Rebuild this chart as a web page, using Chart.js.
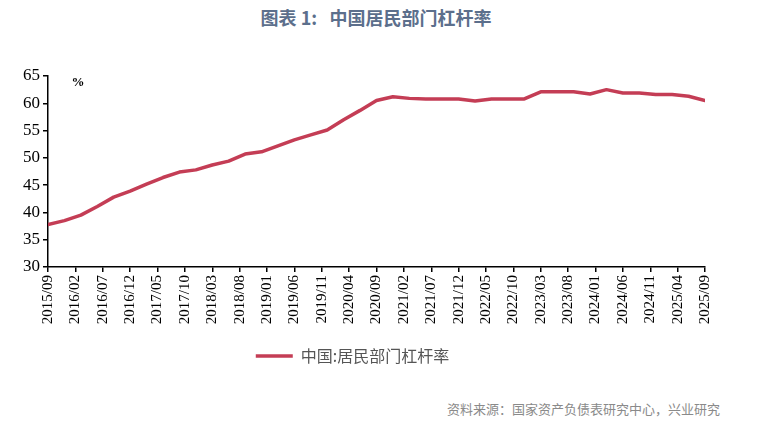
<!DOCTYPE html>
<html>
<head>
<meta charset="utf-8">
<script src="https://cdn.jsdelivr.net/npm/chart.js@4.4.1/dist/chart.umd.min.js"></script>
<style>
  html, body { margin: 0; padding: 0; background: #fff; }
  body { width: 776px; height: 423px; position: relative; overflow: hidden; }
  #title {
    position: absolute; left: 0; width: 752px; top: 4px; text-align: center;
    font-family: "Noto Sans CJK SC", sans-serif; font-weight: bold; font-size: 18px;
    color: #5c6f8c; white-space: pre;
  }
  #wrap { position: absolute; left: 0; top: 0; width: 776px; height: 374px; }
  #source {
    position: absolute; left: 447px; top: 399px;
    font-family: "Noto Sans CJK SC", sans-serif; font-size: 13px; color: #8a8a8a;
  }
</style>
</head>
<body>
<div id="title">图表 1:   中国居民部门杠杆率</div>
<div id="wrap"><canvas id="chart" width="776" height="374"></canvas></div>
<div id="source">资料来源：国家资产负债表研究中心，兴业研究</div>
<script>
// 季度数据
const quarters = [
    '2015/09', '2015/12', '2016/03', '2016/06', '2016/09', '2016/12',
    '2017/03', '2017/06', '2017/09', '2017/12', '2018/03', '2018/06',
    '2018/09', '2018/12', '2019/03', '2019/06', '2019/09', '2019/12',
    '2020/03', '2020/06', '2020/09', '2020/12', '2021/03', '2021/06',
    '2021/09', '2021/12', '2022/03', '2022/06', '2022/09', '2022/12',
    '2023/03', '2023/06', '2023/09', '2023/12', '2024/03', '2024/06',
    '2024/09', '2024/12', '2025/03', '2025/06', '2025/09'
];
const leverage = [
    37.8, 38.5, 39.5, 41.1, 42.8, 43.9,
    45.2, 46.4, 47.4, 47.8, 48.7, 49.4,
    50.7, 51.1, 52.2, 53.3, 54.2, 55.1,
    57.0, 58.7, 60.5, 61.2, 60.9, 60.8,
    60.8, 60.8, 60.4, 60.8, 60.8, 60.8,
    62.1, 62.1, 62.1, 61.7, 62.5, 61.9,
    61.9, 61.6, 61.6, 61.3, 60.5
];
const seriesName = '中国:居民部门杠杆率';
const yTicks = [30, 35, 40, 45, 50, 55, 60, 65];
const startMonth = '2015/09';

const lineColor = '#c43d55';

function monthIndex(s) {
    const [y, m] = s.split('/').map(Number);
    const [y0, m0] = startMonth.split('/').map(Number);
    return (y - y0) * 12 + (m - m0);
}
function monthLabel(i) {
    const [y0, m0] = startMonth.split('/').map(Number);
    const t = y0 * 12 + (m0 - 1) + i;
    const y = Math.floor(t / 12), m = t % 12 + 1;
    return y + '/' + String(m).padStart(2, '0');
}

const points = quarters.map((q, i) => ({ x: monthIndex(q), y: leverage[i] }));
const lastMonth = monthIndex(quarters[quarters.length - 1]);

// 左上角的 % 单位
const unitLabel = {
    id: 'unitLabel',
    afterDraw(chart) {
        const { ctx, chartArea } = chart;
        ctx.save();
        ctx.font = 'bold 13px "Liberation Serif", serif';
        ctx.fillStyle = '#000';
        ctx.textAlign = 'center';
        ctx.textBaseline = 'middle';
        ctx.fillText('%', chartArea.left + 30, chartArea.top + 7);
        ctx.restore();
    }
};

const ctx = document.getElementById('chart').getContext('2d');
new Chart(ctx, {
    type: 'line',
    data: {
        datasets: [{
            label: seriesName,
            data: points,
            borderColor: lineColor,
            backgroundColor: lineColor,
            borderWidth: 3.5,
            tension: 0,
            pointRadius: 0,
            pointStyle: 'line',
            borderJoinStyle: 'round',
            borderCapStyle: 'round'
        }]
    },
    options: {
        responsive: false,
        animation: false,
        layout: { padding: { left: 0, right: 71, top: 76, bottom: 0 } },
        scales: {
            x: {
                type: 'linear',
                min: 0,
                max: lastMonth,
                grid: { display: true, drawOnChartArea: false, drawTicks: true, tickLength: 5, color: '#000', lineWidth: 1.5 },
                border: { display: true, color: '#000', width: 1.5 },
                ticks: {
                    stepSize: 5,
                    autoSkip: false,
                    maxRotation: 90,
                    minRotation: 90,
                    color: '#000',
                    padding: 3,
                    font: { family: '"Liberation Serif", serif', size: 15 },
                    callback: (v) => monthLabel(v)
                },
                afterFit: (scale) => { scale.height = 71; }
            },
            y: {
                min: 30,
                max: 65,
                afterBuildTicks: (scale) => { scale.ticks = yTicks.map(v => ({ value: v })); },
                grid: { display: true, drawOnChartArea: false, drawTicks: true, tickLength: 5, color: '#000', lineWidth: 1.5 },
                border: { display: true, color: '#000', width: 1.5 },
                ticks: {
                    color: '#000',
                    padding: 3,
                    font: { family: '"Liberation Serif", serif', size: 17 }
                },
                afterFit: (scale) => { scale.width = 48; }
            }
        },
        plugins: {
            legend: {
                position: 'bottom',
                labels: {
                    usePointStyle: true,
                    pointStyleWidth: 37,
                    boxHeight: 10,
                    color: '#555',
                    padding: 10,
                    font: { family: '"Noto Sans CJK SC", sans-serif', size: 16 }
                }
            },
            tooltip: { enabled: false }
        }
    },
    plugins: [unitLabel]
});
</script>
</body>
</html>
